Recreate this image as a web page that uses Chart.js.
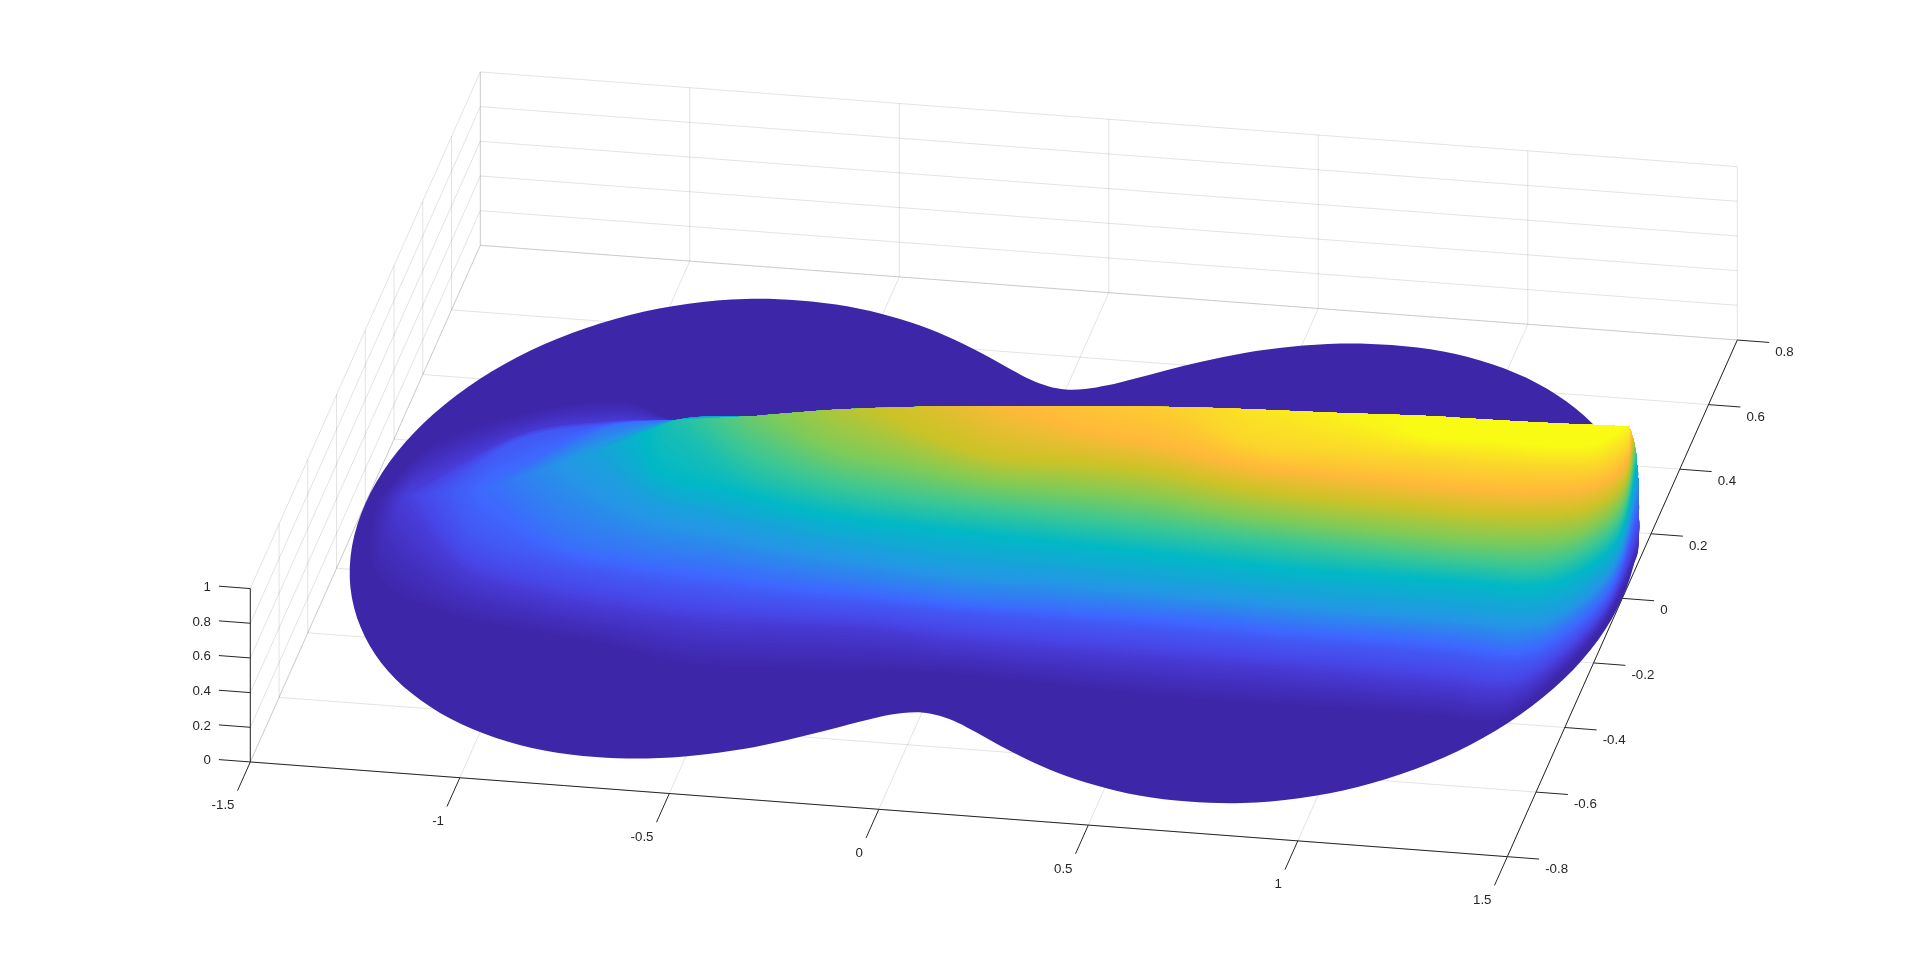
<!DOCTYPE html>
<html lang="en">
  <head>
    <meta charset="utf-8" />
    <title>Surface</title>
    <style>
      body {
        margin: 0;
        background-color: white;
      }
      canvas {
        display: block;
      }
    </style>
  </head>
  <body>
    <canvas id="chart" width="1920" height="963"></canvas>
    <script src="https://cdn.jsdelivr.net/npm/chart.js"></script>
    <script>
      const xTicks = [-1.5, -1, -0.5, 0, 0.5, 1, 1.5];
      const yTicks = [-0.8, -0.6, -0.4, -0.2, 0, 0.2, 0.4, 0.6, 0.8];
      const zTicks = [0, 0.2, 0.4, 0.6, 0.8, 1];

      // outline of the surface at z = 0, front half (back half is its mirror)
      const edgeX = [-1.5, -1.487, -1.448, -1.384, -1.3, -1.198, -1.083, -0.959, -0.833, -0.707, -0.587, -0.476, -0.375, -0.287, -0.211, -0.147, -0.092, -0.044, 0, 0.044, 0.092, 0.147, 0.211, 0.287, 0.375, 0.476, 0.587, 0.707, 0.833, 0.959, 1.083, 1.198, 1.3, 1.384, 1.448, 1.487, 1.5];
      const edgeFrontY = [0, -0.13, -0.255, -0.371, -0.473, -0.558, -0.625, -0.672, -0.699, -0.707, -0.7, -0.679, -0.65, -0.615, -0.58, -0.548, -0.522, -0.506, -0.5, -0.506, -0.522, -0.548, -0.58, -0.615, -0.65, -0.679, -0.7, -0.707, -0.699, -0.672, -0.625, -0.558, -0.473, -0.371, -0.255, -0.13, 0];

      // height read as a share of the tallest point, through the colormap
      const peakZ = 0.85;
      const levels = [0.03, 0.08, 0.14, 0.2, 0.3, 0.4, 0.5, 0.6, 0.7, 0.8, 0.9, 1];

      // crest of the surface at each x station
      const stationX = [-1.47, -1.4, -1.2, -1, -0.8, -0.6, -0.4, -0.2, 0, 0.2, 0.4, 0.6, 0.8, 1, 1.2, 1.35, 1.44, 1.49];
      const crestY = [0, -0.01, -0.005, 0.06, 0.122, 0.095, 0.093, 0.094, 0.084, 0.084, 0.083, 0.068, 0.058, 0.06, 0.064, 0.069, 0.073, 0.082];
      const crestLevel = [0.03, 0.09, 0.19, 0.3, 0.45, 0.58, 0.67, 0.73, 0.8, 0.84, 0.88, 0.94, 0.98, 1, 1, 1, 1, 0.98];

      // y of each height contour on the front slope, per station
      const _ = null;
      const front03 = [_, -0.215, -0.32, -0.353, -0.377, -0.416, -0.412, -0.399, -0.388, -0.394, -0.402, -0.407, -0.406, -0.402, -0.404, -0.399, -0.25, -0.08];
      const front08 = [_, -0.05, -0.215, -0.272, -0.3, -0.315, -0.311, -0.302, -0.318, -0.321, -0.323, -0.325, -0.327, -0.332, -0.337, -0.335, -0.22, -0.06];
      const front14 = [_, _, -0.13, -0.195, -0.225, -0.243, -0.251, -0.251, -0.256, -0.258, -0.26, -0.262, -0.267, -0.266, -0.272, -0.276, -0.19, -0.04];
      const front20 = [_, _, _, -0.138, -0.183, -0.196, -0.217, -0.229, -0.243, -0.239, -0.238, -0.237, -0.245, -0.244, -0.247, -0.25, -0.17, -0.025];
      const front30 = [_, _, _, _, -0.066, -0.109, -0.148, -0.173, -0.19, -0.192, -0.2, -0.205, -0.21, -0.212, -0.212, -0.212, -0.15, -0.01];
      const front40 = [_, _, _, _, -0.011, -0.059, -0.101, -0.119, -0.13, -0.138, -0.147, -0.158, -0.166, -0.165, -0.164, -0.162, -0.105, 0.005];
      const front50 = [_, _, _, _, _, 0.023, -0.05, -0.08, -0.095, -0.103, -0.112, -0.123, -0.134, -0.143, -0.148, -0.14, -0.085, 0.015];
      const front60 = [_, _, _, _, _, _, 0.009, -0.03, -0.063, -0.068, -0.077, -0.101, -0.112, -0.12, -0.125, -0.111, -0.07, 0.025];
      const front70 = [_, _, _, _, _, _, _, 0.036, -0.025, -0.028, -0.036, -0.066, -0.08, -0.085, -0.088, -0.076, -0.045, 0.035];
      const front80 = [_, _, _, _, _, _, _, _, _, 0.029, 0.002, -0.04, -0.051, -0.057, -0.062, -0.05, -0.025, 0.045];
      const front90 = [_, _, _, _, _, _, _, _, _, _, _, -0.009, -0.023, -0.022, -0.024, -0.019, -0.002, 0.055];
      const front100 = [_, _, _, _, _, _, _, _, _, _, _, _, _, 0.005, 0.002, 0, 0.02, _];
      const frontRows = [front03, front08, front14, front20, front30, front40, front50, front60, front70, front80, front90, front100];

      // back slope, only seen at the left end where the crest is low
      const back03 = [_, 0.175, 0.3, 0.35];
      const back08 = [_, 0.03, 0.21, 0.27];
      const back14 = [_, _, 0.158, 0.233];
      const back20 = [_, _, _, 0.19];
      const backRows = [back03, back08, back14, back20];

      // where each contour runs out on the steep wall at the right end
      const rimX = [1.495, 1.486, 1.471, 1.463, 1.458, 1.455, 1.458, 1.464, 1.469, 1.476, 1.48, 1.488];
      const rimY = [0.115, 0.153, 0.198, 0.22, 0.232, 0.232, 0.218, 0.192, 0.168, 0.138, 0.111, 0.073];

      // parula as it looks in the picture
      const colorStops = [
        [0, [62, 38, 168]],
        [0.03, [63, 40, 173]],
        [0.05, [66, 46, 188]],
        [0.08, [72, 58, 212]],
        [0.1, [72, 69, 230]],
        [0.17, [63, 102, 255]],
        [0.27, [37, 150, 230]],
        [0.4, [2, 184, 198]],
        [0.5, [60, 199, 149]],
        [0.6, [128, 203, 88]],
        [0.7, [203, 195, 40]],
        [0.8, [255, 185, 58]],
        [0.9, [251, 215, 43]],
        [1, [249, 251, 21]],
      ];

      // 3D box of the axes, orthographic view
      const center = { x: 993.8, y: 551 };
      const xUnit = { x: 419, y: 31.57 };
      const yUnit = { x: 143.75, y: -322.9 };
      const zUnit = -173.4;

      const project = (x, y, z) => ({
        x: center.x + x * xUnit.x + y * yUnit.x,
        y: center.y + x * xUnit.y + y * yUnit.y + z * zUnit,
      });

      const lerp = (a, b, f) => ({
        x: a.x + (b.x - a.x) * f,
        y: a.y + (b.y - a.y) * f,
      });

      const colorAt = (t) => {
        let i = 0;
        while (i < colorStops.length - 2 && colorStops[i + 1][0] < t) i++;
        const [t0, c0] = colorStops[i];
        const [t1, c1] = colorStops[i + 1];
        const f = Math.min(1, Math.max(0, (t - t0) / (t1 - t0)));
        const c = c0.map((v, n) => Math.round(v + (c1[n] - v) * f));
        return `rgb(${c[0]},${c[1]},${c[2]})`;
      };

      const crestPoint = (i) =>
        project(stationX[i], crestY[i], crestLevel[i] * peakZ);

      // point of height t on a slope at station i, between the read contours
      const slopePoint = (rows, i, t) => {
        const crest = crestPoint(i);
        if (t > crestLevel[i]) return crest;
        let lo = -1;
        let hi = -1;
        levels.forEach((level, k) => {
          const value = rows[k]?.[i];
          if (value === null || value === undefined) return;
          if (level <= t) lo = k;
          else if (hi < 0 && level <= crestLevel[i]) hi = k;
        });
        if (lo < 0) return crest;
        const a = project(stationX[i], rows[lo][i], levels[lo] * peakZ);
        const b =
          hi < 0
            ? crest
            : project(stationX[i], rows[hi][i], levels[hi] * peakZ);
        const top = hi < 0 ? crestLevel[i] : levels[hi];
        return top === levels[lo] ? a : lerp(a, b, (t - levels[lo]) / (top - levels[lo]));
      };

      const rimPoint = (k) => project(rimX[k], rimY[k], levels[k] * peakZ);

      // closed region of the surface above height t, starts at the sharp point
      // where that height meets the crest
      const surfaceRegion = (t, k, f) => {
        const live = stationX.map((_x, i) => t <= crestLevel[i]);
        const first = live.indexOf(true);
        const last = live.lastIndexOf(true);
        const points = [];
        if (first > 0) {
          const a = crestLevel[first - 1];
          const b = crestLevel[first];
          points.push(lerp(crestPoint(first - 1), crestPoint(first), (t - a) / (b - a)));
        }
        for (let i = first; i <= last; i++) {
          points.push(slopePoint(frontRows, i, t));
        }
        const next = Math.min(k + 1, levels.length - 1);
        points.push(lerp(rimPoint(k), rimPoint(next), f));
        for (let j = next; j < levels.length; j++) points.push(rimPoint(j));
        for (let i = last; i >= first; i--) {
          points.push(slopePoint(backRows, i, t));
        }
        return points;
      };

      const segment = (a, b, color) => ({
        data: [a, b],
        showLine: true,
        borderColor: color,
        borderWidth: 1,
        pointRadius: 0,
      });

      const axisColor = "#262626";
      const gridColor = "rgba(38,38,38,0.13)";
      const xMin = xTicks[0];
      const xMax = xTicks[xTicks.length - 1];
      const yMin = yTicks[0];
      const yMax = yTicks[yTicks.length - 1];
      const zMax = zTicks[zTicks.length - 1];

      const datasets = [];

      // axis rulers and tick marks
      datasets.push(segment(project(xMin, yMin, 0), project(xMax, yMin, 0), axisColor));
      datasets.push(segment(project(xMax, yMin, 0), project(xMax, yMax, 0), axisColor));
      datasets.push(segment(project(xMin, yMin, 0), project(xMin, yMin, zMax), axisColor));
      xTicks.forEach((x) => datasets.push(segment(project(x, yMin, 0), project(x, yMin - 0.089, 0), axisColor)));
      yTicks.forEach((y) => datasets.push(segment(project(xMax, y, 0), project(xMax + 0.076, y, 0), axisColor)));
      zTicks.forEach((z) => datasets.push(segment(project(xMin, yMin, z), project(xMin - 0.075, yMin, z), axisColor)));

      // grid on the floor and the two walls
      xTicks.forEach((x) => {
        datasets.push(segment(project(x, yMin, 0), project(x, yMax, 0), gridColor));
        datasets.push(segment(project(x, yMax, 0), project(x, yMax, zMax), gridColor));
      });
      yTicks.forEach((y) => {
        datasets.push(segment(project(xMin, y, 0), project(xMax, y, 0), gridColor));
        datasets.push(segment(project(xMin, y, 0), project(xMin, y, zMax), gridColor));
      });
      zTicks.forEach((z) => {
        datasets.push(segment(project(xMin, yMin, z), project(xMin, yMax, z), gridColor));
        datasets.push(segment(project(xMin, yMax, z), project(xMax, yMax, z), gridColor));
      });

      const surfaceSet = (points, color, sharpStart) => ({
        data: points,
        showLine: false,
        pointRadius: 0,
        backgroundColor: color,
        surface: true,
        sharpStart,
      });

      // flat outline first, then the nested height regions on top of it
      const edgePoints = [
        ...edgeX.map((x, i) => project(x, edgeFrontY[i], 0)),
        ...edgeX.map((x, i) => project(x, -edgeFrontY[i], 0)).reverse().slice(1, -1),
      ];
      datasets.push(surfaceSet(edgePoints, colorAt(0), false));

      levels.forEach((level, k) => {
        const next = levels[k + 1];
        const steps = next === undefined ? 1 : Math.round((next - level) * 240);
        for (let s = 0; s < steps; s++) {
          const f = s / steps;
          const t = next === undefined ? level : level + (next - level) * f;
          datasets.push(surfaceSet(surfaceRegion(t, k, f), colorAt(t), true));
        }
      });

      // smooth closed path through the points, handles scaled to each segment
      const tangent = (a, b) => {
        const dx = b.x - a.x;
        const dy = b.y - a.y;
        const len = Math.hypot(dx, dy) || 1;
        return { x: dx / len, y: dy / len };
      };

      const surfacePlugin = {
        id: "surface",
        afterDatasetsDraw(chart) {
          const { ctx } = chart;
          chart.data.datasets.forEach((set, index) => {
            if (!set.surface) return;
            const pts = chart.getDatasetMeta(index).data;
            const n = pts.length;
            ctx.save();
            ctx.fillStyle = set.backgroundColor;
            ctx.beginPath();
            ctx.moveTo(pts[0].x, pts[0].y);
            for (let i = 0; i < n; i++) {
              const p0 = pts[(i + n - 1) % n];
              const p1 = pts[i];
              const p2 = pts[(i + 1) % n];
              const p3 = pts[(i + 2) % n];
              const len = Math.hypot(p2.x - p1.x, p2.y - p1.y) / 3;
              const leaving = set.sharpStart && i === 0 ? 0 : len;
              const arriving = set.sharpStart && i === n - 1 ? 0 : len;
              const t1 = tangent(p0, p2);
              const t2 = tangent(p1, p3);
              ctx.bezierCurveTo(
                p1.x + t1.x * leaving,
                p1.y + t1.y * leaving,
                p2.x - t2.x * arriving,
                p2.y - t2.y * arriving,
                p2.x,
                p2.y
              );
            }
            ctx.closePath();
            ctx.fill();
            ctx.restore();
          });
        },
      };

      const labelPlugin = {
        id: "tickLabels",
        afterDraw(chart) {
          const { ctx, scales } = chart;
          const put = (p, text, align, dx, dy) => {
            ctx.textAlign = align;
            ctx.fillText(
              text,
              scales.x.getPixelForValue(p.x) + dx,
              scales.y.getPixelForValue(p.y) + dy
            );
          };
          ctx.save();
          ctx.font = '13.3px "Liberation Sans"';
          ctx.fillStyle = axisColor;
          ctx.textBaseline = "middle";
          xTicks.forEach((x) => put(project(x, yMin - 0.089, 0), String(x), "right", -3, 15));
          yTicks.forEach((y) => put(project(xMax + 0.076, y, 0), String(y), "left", 6, 10));
          zTicks.forEach((z) => put(project(xMin - 0.075, yMin, z), String(z), "right", -8, 1));
          ctx.restore();
        },
      };

      new Chart(document.getElementById("chart"), {
        type: "scatter",
        data: { datasets },
        plugins: [surfacePlugin, labelPlugin],
        options: {
          responsive: false,
          animation: false,
          events: [],
          layout: { padding: 0 },
          plugins: {
            legend: { display: false },
            tooltip: { enabled: false },
          },
          scales: {
            x: { type: "linear", display: false, min: 0, max: 1920 },
            y: { type: "linear", display: false, min: 0, max: 963, reverse: true },
          },
        },
      });
    </script>
  </body>
</html>
